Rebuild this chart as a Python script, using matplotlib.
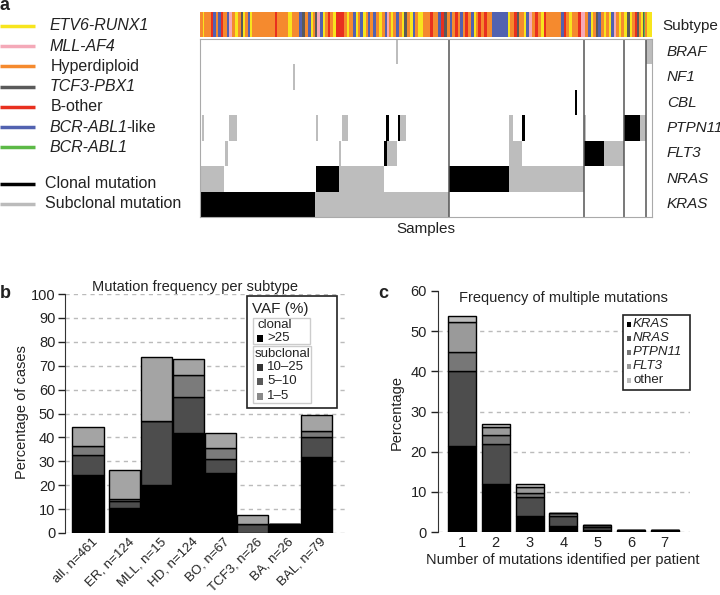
import numpy as np
import matplotlib
matplotlib.use('Agg')
import matplotlib.pyplot as plt
from matplotlib.colors import ListedColormap
from matplotlib.patches import Rectangle

plt.rcParams['font.family'] = ['Liberation Sans', 'DejaVu Sans']
plt.rcParams['text.color'] = '#222222'
plt.rcParams['xtick.color'] = '#222222'
plt.rcParams['ytick.color'] = '#222222'

W, H = 720, 595

# ---------------- panel a data ----------------
SUBTYPES = ['ETV6-RUNX1', 'MLL-AF4', 'Hyperdiploid', 'TCF3-PBX1', 'B-other',
            'BCR-ABL1-like', 'BCR-ABL1']
SUBTYPE_KEYS = ['E', 'M', 'H', 'T', 'O', 'L', 'A']
SUBTYPE_COLORS = ['#f7e51e', '#f4a9b8', '#f58a2e', '#5a5a5a', '#e8301f',
                  '#5262b0', '#5cb947']

# subtype stripe, left to right: (subtype key, number of samples)
SUBTYPE_RUNS = [
    ('H', 3), ('E', 1), ('H', 7), ('O', 2), ('L', 3), ('H', 2), ('L', 3), ('O', 2),
    ('H', 4), ('L', 2), ('M', 3), ('H', 3), ('E', 3), ('H', 3), ('T', 2), ('E', 2),
    ('H', 3), ('L', 2), ('E', 2), ('H', 23), ('O', 2), ('H', 11), ('E', 4), ('H', 7),
    ('L', 3), ('T', 3), ('H', 3), ('L', 3), ('E', 2), ('H', 2), ('T', 2), ('M', 3),
    ('L', 3), ('E', 2), ('H', 3), ('O', 2), ('H', 3), ('E', 3), ('O', 8), ('H', 3),
    ('E', 2), ('H', 4),
    ('L', 3), ('E', 2), ('H', 2), ('L', 3), ('E', 3), ('H', 2), ('L', 2), ('H', 3),
    ('L', 3), ('H', 3), ('E', 3), ('H', 3), ('L', 2), ('M', 2), ('H', 2), ('E', 2),
    ('H', 3), ('L', 3), ('H', 3), ('E', 2), ('T', 3), ('H', 3), ('E', 3), ('L', 2),
    ('H', 3), ('E', 5), ('H', 7), ('O', 3), ('H', 5), ('L', 3), ('O', 3), ('T', 3),
    ('H', 3), ('L', 2), ('H', 3), ('O', 3), ('H', 2), ('L', 3), ('H', 2), ('O', 3),
    ('H', 3), ('L', 3), ('E', 2), ('H', 2), ('O', 3), ('H', 3), ('O', 3), ('H', 5),
    ('L', 16),
    ('E', 2), ('H', 4), ('O', 3), ('T', 2), ('H', 5), ('E', 2), ('L', 3), ('M', 3),
    ('H', 3), ('O', 3), ('H', 3), ('E', 3), ('O', 2), ('H', 15), ('L', 3), ('O', 2),
    ('H', 3), ('E', 3), ('H', 6), ('O', 3), ('M', 4), ('H', 3), ('L', 3), ('E', 2),
    ('H', 3), ('T', 2), ('L', 3), ('H', 3), ('E', 2), ('H', 3), ('E', 2), ('L', 3),
    ('M', 2), ('H', 3), ('E', 2), ('H', 3), ('E', 3), ('T', 3), ('E', 2), ('H', 3),
    ('O', 2), ('T', 2), ('H', 2), ('E', 2), ('T', 1), ('A', 1), ('H', 2), ('E', 5),
]

GENES = ['BRAF', 'NF1', 'CBL', 'PTPN11', 'FLT3', 'NRAS', 'KRAS']
# mutated sample ranges per gene: (first, last, status) status 1 = subclonal, 2 = clonal
BRAF_SEGS = [(196, 198, 1), (446, 452, 1)]
NF1_SEGS = [(93, 95, 1)]
CBL_SEGS = [(375, 377, 2)]
PTPN11_SEGS = [(2, 4, 1), (29, 37, 1), (116, 118, 1), (142, 148, 1), (186, 189, 2),
               (198, 200, 2), (200, 206, 1), (309, 313, 1), (322, 325, 2),
               (384, 386, 1), (424, 440, 2), (440, 446, 1)]
FLT3_SEGS = [(0, 1, 1), (25, 28, 1), (139, 141, 1), (184, 187, 2), (187, 197, 1),
             (309, 322, 1), (384, 404, 2), (404, 424, 1)]
NRAS_SEGS = [(0, 24, 1), (116, 139, 2), (139, 184, 1), (249, 309, 2), (309, 384, 1)]
KRAS_SEGS = [(0, 115, 2), (115, 249, 1)]
GROUP_BREAKS = [249, 384, 424, 446]

# ---------------- panel b data ----------------
B_GROUPS = ['all, n=461', 'ER, n=124', 'MLL, n=15', 'HD, n=124', 'BO, n=67',
            'TCF3, n=26', 'BA, n=26', 'BAL, n=79']
B_CLONAL = [24.1, 10.4, 19.9, 41.9, 25.2, 0.0, 3.8, 31.8]
B_SUB_10_25 = [8.4, 3.0, 26.8, 15.2, 5.9, 3.8, 0.0, 8.3]
B_SUB_5_10 = [3.9, 0.9, 0.0, 8.9, 4.4, 0.0, 0.0, 2.5]
B_SUB_1_5 = [7.9, 12.2, 26.8, 6.6, 6.3, 3.8, 0.0, 6.6]
B_COLORS = ['#000000', '#4d4d4d', '#7b7b7b', '#a4a4a4']

# ---------------- panel c data ----------------
C_COUNTS = [1, 2, 3, 4, 5, 6, 7]
C_KRAS = [21.3, 11.9, 4.1, 1.6, 0.6, 0.3, 0.3]
C_NRAS = [18.8, 9.9, 4.6, 2.3, 0.6, 0.2, 0.2]
C_PTPN11 = [4.7, 2.4, 1.0, 0.8, 0.6, 0.0, 0.0]
C_FLT3 = [7.5, 1.9, 1.5, 0.0, 0.0, 0.0, 0.0]
C_OTHER = [1.5, 0.9, 0.7, 0.0, 0.0, 0.0, 0.0]
C_LABELS = ['KRAS', 'NRAS', 'PTPN11', 'FLT3', 'other']
C_COLORS = ['#000000', '#4d4d4d', '#777777', '#9a9a9a', '#bdbdbd']


fig = plt.figure(figsize=(W / 100, H / 100), dpi=100)


def px_axes(x0, y0, x1, y1):
    return fig.add_axes([x0 / W, 1 - y1 / H, (x1 - x0) / W, (y1 - y0) / H])


# ---- panel a: subtype stripe ----
codes = np.concatenate([[SUBTYPE_KEYS.index(k)] * n for k, n in SUBTYPE_RUNS])
n_samples = len(codes)
ax_st = px_axes(200, 12, 652, 37)
ax_st.imshow(codes[np.newaxis, :], cmap=ListedColormap(SUBTYPE_COLORS),
             vmin=-0.5, vmax=len(SUBTYPES) - 0.5, aspect='auto',
             interpolation='nearest', extent=(0, n_samples, 1, 0))
ax_st.set_axis_off()

# ---- panel a: mutation matrix ----
mat = np.zeros((len(GENES), n_samples))
for row, segs in enumerate([BRAF_SEGS, NF1_SEGS, CBL_SEGS, PTPN11_SEGS,
                            FLT3_SEGS, NRAS_SEGS, KRAS_SEGS]):
    for s, e, status in segs:
        mat[row, s:e] = status
ax_hm = px_axes(200, 39, 652, 217)
ax_hm.imshow(mat, cmap=ListedColormap(['white', '#bdbdbd', 'black']),
             vmin=-0.5, vmax=2.5, aspect='auto', interpolation='nearest',
             extent=(0, n_samples, len(GENES), 0))
for b in GROUP_BREAKS:
    ax_hm.axvline(b, color='#555555', lw=1.1)
ax_hm.set_xticks([])
ax_hm.set_yticks([])
for sp in ax_hm.spines.values():
    sp.set_color('#aaaaaa')
for i, g in enumerate(GENES):
    ax_hm.text(1.033, 1 - (i + 0.5) / len(GENES), g, transform=ax_hm.transAxes,
               fontsize=11, style='italic', va='center', ha='left')
ax_hm.text(0.5, -0.065, 'Samples', transform=ax_hm.transAxes, fontsize=11,
           ha='center', va='center')
ax_st.text(1.022, 0.45, 'Subtype', transform=ax_st.transAxes, fontsize=11,
           ha='left', va='center')

# ---- panel b ----
ax_b = px_axes(65, 294, 345, 533)
xb = np.r_[0, 1.14 + np.arange(len(B_GROUPS) - 1)]
bottom = np.zeros(len(B_GROUPS))
for vals, col in zip([B_CLONAL, B_SUB_10_25, B_SUB_5_10, B_SUB_1_5], B_COLORS):
    ax_b.bar(xb, vals, width=0.98, bottom=bottom, color=col, edgecolor='black',
             lw=1.0, zorder=3)
    bottom += np.array(vals)
ax_b.set_xlim(-0.72, 8.03)
ax_b.set_ylim(0, 100)
ax_b.set_yticks(np.arange(0, 101, 10))
ax_b.yaxis.grid(True, ls=(0, (3, 3)), color='#bbbbbb', lw=1)
ax_b.set_axisbelow(True)
ax_b.set_xticks(xb + 0.1)
ax_b.set_xticklabels(B_GROUPS, rotation=45, ha='right', va='top',
                     rotation_mode='anchor', fontsize=9.5)
ax_b.tick_params(axis='x', length=0, pad=2)
ax_b.tick_params(axis='y', length=5, pad=2, labelsize=10.5, width=1)
for sp in ['top', 'right', 'bottom']:
    ax_b.spines[sp].set_visible(False)
ax_b.spines['left'].set_color('#333333')
ax_b.patch.set_alpha(0)

# ---- panel c ----
ax_c = px_axes(438, 291, 690, 532)
bottom = np.zeros(len(C_COUNTS))
for vals, col in zip([C_KRAS, C_NRAS, C_PTPN11, C_FLT3, C_OTHER], C_COLORS):
    ax_c.bar(C_COUNTS, vals, width=0.83, bottom=bottom, color=col,
             edgecolor='black', lw=1.0, zorder=3)
    bottom += np.array(vals)
ax_c.set_xlim(0.29, 7.75)
ax_c.set_ylim(0, 60)
ax_c.set_yticks(np.arange(0, 61, 10))
for yv in range(0, 60, 10):
    ax_c.axhline(yv, ls=(0, (3, 3)), color='#bbbbbb', lw=1, zorder=1)
ax_c.set_xticks(C_COUNTS)
ax_c.tick_params(axis='x', length=0, pad=3, labelsize=10.5)
ax_c.tick_params(axis='y', length=5, pad=3, labelsize=10.5, width=1)
for sp in ['top', 'right', 'bottom']:
    ax_c.spines[sp].set_visible(False)
ax_c.spines['left'].set_color('#333333')
ax_c.patch.set_alpha(0)

# ---- overlay for labels and legends (pixel coordinates) ----
ov = fig.add_axes([0, 0, 1, 1])
ov.set_xlim(0, W)
ov.set_ylim(H, 0)
ov.axis('off')
ov.set_zorder(10)

ov.text(0, 5, 'a', fontsize=13, fontweight='bold', va='center', ha='left')
ov.text(0, 294, 'b', fontsize=13, fontweight='bold', va='center', ha='left')
ov.text(378, 294, 'c', fontsize=13, fontweight='bold', va='center', ha='left')

# subtype legend
for i, (lab, col) in enumerate(zip(SUBTYPES, SUBTYPE_COLORS)):
    y = 26 + 20.2 * i
    ov.plot([0, 35], [y, y], color=col, lw=2.5, solid_capstyle='butt')
    if lab in ('Hyperdiploid', 'B-other'):
        ov.text(51, y, lab, fontsize=11.5, va='center', ha='left')
    elif lab == 'BCR-ABL1-like':
        t = ov.text(50, y, 'BCR-ABL1', fontsize=11.5, style='italic',
                    va='center', ha='left')
        ov.annotate('-like', xy=(1, 0), xycoords=t, xytext=(-1.5, 0),
                    textcoords='offset points', fontsize=11.5,
                    va='bottom', ha='left')
    else:
        ov.text(50, y, lab, fontsize=11.5, style='italic', va='center', ha='left')
for y, col, lab in [(184, 'black', 'Clonal mutation'),
                    (204, '#bbbbbb', 'Subclonal mutation')]:
    ov.plot([0, 35], [y, y], color=col, lw=2.5, solid_capstyle='butt')
    ov.text(45, y, lab, fontsize=11.5, va='center', ha='left')

# panel b texts + legend
ov.text(195, 287, 'Mutation frequency per subtype', fontsize=10.5,
        ha='center', va='center')
ov.text(22, 412, 'Percentage of cases', fontsize=10.5, rotation=90,
        ha='center', va='center')
ov.add_patch(Rectangle((247, 296), 90, 112, fc='white', ec='#222222', lw=1.2))
ov.text(252, 309, 'VAF (%)', fontsize=11, ha='left', va='center')
ov.add_patch(Rectangle((253, 318), 57, 26, fc='none', ec='#cccccc', lw=1))
ov.add_patch(Rectangle((253, 346), 58, 57, fc='none', ec='#cccccc', lw=1))
ov.text(258, 325, 'clonal', fontsize=9.5, ha='left', va='center')
ov.text(255, 354, 'subclonal', fontsize=9.5, ha='left', va='center')
for y, lab, col in [(338, '>25', B_COLORS[0]), (367, '10\u201325', '#333333'),
                    (381, '5\u201310', '#5a5a5a'), (396, '1\u20135', '#8a8a8a')]:
    ov.add_patch(Rectangle((257, y - 3.5), 6, 7, fc=col, ec='none'))
    ov.text(267, y, lab, fontsize=9.5, ha='left', va='center')

# panel c texts + legend
ov.text(563, 298, 'Frequency of multiple mutations', fontsize=10.5,
        ha='center', va='center')
ov.text(397, 412, 'Percentage', fontsize=10.5, rotation=90,
        ha='center', va='center')
ov.text(563, 560, 'Number of mutations identified per patient', fontsize=10.5,
        ha='center', va='center')
ov.add_patch(Rectangle((623, 315), 67, 75, fc='white', ec='#222222', lw=1.2))
for i, (lab, col) in enumerate(zip(C_LABELS, C_COLORS)):
    y = 324 + 14 * i
    ov.add_patch(Rectangle((627, y - 2.5), 4, 5, fc=col, ec='none'))
    ov.text(633, y, lab, fontsize=9.5, ha='left', va='center',
            style='normal' if lab == 'other' else 'italic')

fig.savefig('out.png', dpi=100)
